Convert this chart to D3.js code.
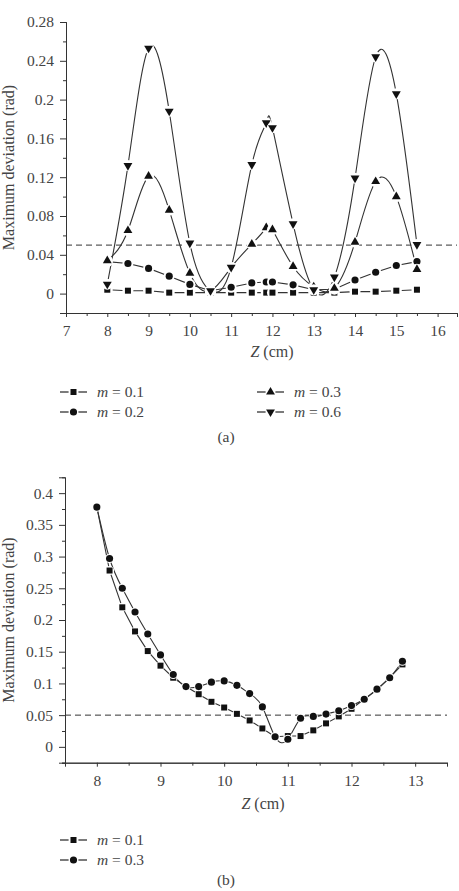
<!DOCTYPE html>
<html>
<head>
<meta charset="utf-8">
<script src="https://cdn.jsdelivr.net/npm/d3@7"></script>
<style>
  body { margin: 0; background: #fff; }
  svg { display: block; font-family: "Liberation Serif", "DejaVu Serif", serif; }
</style>
</head>
<body>
<svg id="svg" width="459" height="891"></svg>
<script>
// panel (a)
const zA = [8, 8.5, 9, 9.5, 10, 10.5, 11, 11.5, 11.85, 12, 12.5, 13, 13.5, 14, 14.5, 15, 15.5]
const a01 = [0.004, 0.003, 0.003, 0.001, 0.001, 0.001, 0.001, 0.001, 0.001, 0.001, 0.001, 0.001, 0.001, 0.002, 0.002, 0.003, 0.004]
const a02 = [0.033, 0.031, 0.026, 0.018, 0.0095, 0.003, 0.0065, 0.011, 0.012, 0.012, 0.009, 0.004, 0.0045, 0.014, 0.022, 0.029, 0.033]
const a03 = [0.034, 0.065, 0.121, 0.086, 0.021, 0.003, 0.027, 0.051, 0.068, 0.066, 0.028, 0.007, 0.0055, 0.053, 0.1155, 0.1, 0.025]
const a06 = [0.0097, 0.132, 0.253, 0.188, 0.052, 0.003, 0.027, 0.133, 0.176, 0.171, 0.072, 0.004, 0.017, 0.119, 0.244, 0.206, 0.0505]
const ticksA = [0, 0.04, 0.08, 0.12, 0.16, 0.2, 0.24, 0.28]
const tickLabelsA = ['0', '0.04', '0.08', '0.12', '0.16', '0.2', '0.24', '0.28']
const xTicksA = [7, 8, 9, 10, 11, 12, 13, 14, 15, 16]

// panel (b)
const zB = [8, 8.2, 8.4, 8.6, 8.8, 9, 9.2, 9.4, 9.6, 9.8, 10, 10.2, 10.4, 10.6, 10.8, 11, 11.2, 11.4, 11.6, 11.8, 12, 12.2, 12.4, 12.6, 12.8]
const b01 = [0.378, 0.278, 0.22, 0.182, 0.151, 0.128, 0.109, 0.095, 0.083, 0.071, 0.062, 0.052, 0.0416, 0.029, 0.016, 0.017, 0.017, 0.026, 0.037, 0.048, 0.06, 0.075, 0.09, 0.109, 0.13]
const b03 = [0.378, 0.297, 0.25, 0.2126, 0.178, 0.145, 0.114, 0.095, 0.095, 0.102, 0.104, 0.097, 0.084, 0.063, 0.016, 0.012, 0.045, 0.048, 0.0516, 0.057, 0.065, 0.075, 0.091, 0.109, 0.135]
const ticksB = [0, 0.05, 0.1, 0.15, 0.2, 0.25, 0.3, 0.35, 0.4]
const tickLabelsB = ['0', '0.05', '0.1', '0.15', '0.2', '0.25', '0.3', '0.35', '0.4']
const xTicksB = [8, 9, 10, 11, 12, 13]

const threshold = 0.05
const ink = '#333'
const serif = '"Liberation Serif", "Times New Roman", serif'
const svg = d3.select('#svg')

const sym = {
    square: d3.symbol().type(d3.symbolSquare).size(36)(),
    circle: d3.symbol().type(d3.symbolCircle).size(40)(),
    up: d3.symbol().type(d3.symbolTriangle).size(34)(),
    down: d3.symbol().type(d3.symbolTriangle).size(34)()
}

function marker(g, kind, x, y, halo) {
    if (halo) {
        g.append('circle').attr('cx', x).attr('cy', y).attr('r', halo).attr('fill', '#fff')
    }
    g.append('path')
        .attr('d', sym[kind])
        .attr('transform', `translate(${x},${y})` + (kind === 'down' ? ' rotate(180)' : ''))
        .attr('fill', '#111')
}

function drawPanel(p) {
    const x = d3.scaleLinear().domain(p.xDomain).range(p.xRange)
    const y = d3.scaleLinear().domain(p.yDomain).range(p.yRange)
    const g = svg.append('g')

    // axes
    const yAxis = d3.axisLeft(y).tickValues(p.yTicks).tickSize(6).tickPadding(6)
        .tickFormat((d, i) => p.yLabels[i])
    const yMinor = d3.axisLeft(y).tickValues(p.yMinor).tickSize(3).tickFormat('')
    const xAxis = d3.axisBottom(x).tickValues(p.xTicks).tickSize(4).tickPadding(8).tickFormat(d3.format('d'))
    const xMinor = d3.axisBottom(x).tickValues(p.xMinor).tickSize(3).tickFormat('')

    g.append('g').attr('transform', `translate(${p.xRange[0]},0)`).call(yAxis)
    g.append('g').attr('transform', `translate(${p.xRange[0]},0)`).call(yMinor)
    g.append('g').attr('transform', `translate(0,${p.yRange[0]})`).call(xAxis)
    g.append('g').attr('transform', `translate(0,${p.yRange[0]})`).call(xMinor)

    g.selectAll('.domain').attr('stroke', ink)
    g.selectAll('.tick line').attr('stroke', ink)
    g.selectAll('.tick text').attr('fill', '#444')
        .attr('font-family', serif).attr('font-size', '15.5px')

    // threshold
    g.append('line')
        .attr('x1', p.xRange[0]).attr('x2', p.xRange[1])
        .attr('y1', y(threshold)).attr('y2', y(threshold))
        .attr('stroke', ink).attr('stroke-dasharray', '6,4').attr('stroke-width', 1)

    // series
    p.series.forEach(s => {
        const pts = p.z.map((z, i) => [x(z), y(s.values[i])])
        g.append('path')
            .attr('fill', 'none')
            .attr('stroke', ink)
            .attr('stroke-width', 1.1)
            .attr('d', d3.line().curve(s.curve)(pts))
    })
    p.series.forEach(s => {
        p.z.forEach((z, i) => marker(g, s.kind, x(z), y(s.values[i]), p.halo))
    })

    // labels
    g.append('text')
        .attr('transform', `translate(${p.yLabelX},${(p.yRange[0] + p.yRange[1]) / 2}) rotate(-90)`)
        .attr('text-anchor', 'middle').attr('fill', '#444')
        .attr('font-family', serif).attr('font-size', '16px')
        .text('Maximum deviation (rad)')
    const xl = g.append('text')
        .attr('x', p.xLabelX).attr('y', p.xLabelY)
        .attr('text-anchor', 'middle').attr('fill', '#444')
        .attr('font-family', serif).attr('font-size', '16px')
    xl.append('tspan').attr('font-style', 'italic').text('Z')
    xl.append('tspan').text(' (cm)')

    // legend
    p.legend.forEach(l => {
        const lg = g.append('g')
        lg.append('line').attr('x1', l.x).attr('x2', l.x + 27).attr('y1', l.y).attr('y2', l.y)
            .attr('stroke', ink).attr('stroke-width', 1.3)
        marker(lg, l.kind, l.x + 13.5, l.y, 5)
        const t = lg.append('text').attr('x', l.x + 37).attr('y', l.y + 5)
            .attr('fill', '#444').attr('font-family', serif).attr('font-size', '15.5px')
        t.append('tspan').attr('font-style', 'italic').text('m')
        t.append('tspan').text(' = ' + l.label)
    })

    g.append('text')
        .attr('x', 226).attr('y', p.tagY)
        .attr('text-anchor', 'middle').attr('fill', '#444')
        .attr('font-family', serif).attr('font-size', '15.5px')
        .text(p.tag)
}

drawPanel({
    xDomain: [7, 16.47], xRange: [66, 457],
    yDomain: [-0.02, 0.28], yRange: [313, 22],
    yTicks: ticksA, yLabels: tickLabelsA,
    yMinor: [-0.02, 0.02, 0.06, 0.1, 0.14, 0.18, 0.22, 0.26],
    xTicks: xTicksA, xMinor: [7.5, 8.5, 9.5, 10.5, 11.5, 12.5, 13.5, 14.5, 15.5],
    z: zA, halo: 5.5,
    series: [
        { values: a01, kind: 'square', curve: d3.curveLinear },
        { values: a02, kind: 'circle', curve: d3.curveLinear },
        { values: a03, kind: 'up', curve: d3.curveNatural },
        { values: a06, kind: 'down', curve: d3.curveNatural }
    ],
    yLabelX: 14, xLabelX: 272, xLabelY: 357,
    legend: [
        { x: 60, y: 392, kind: 'square', label: '0.1' },
        { x: 60, y: 412, kind: 'circle', label: '0.2' },
        { x: 257, y: 392, kind: 'up', label: '0.3' },
        { x: 257, y: 412, kind: 'down', label: '0.6' }
    ],
    tag: '(a)', tagY: 442
})

drawPanel({
    xDomain: [7.5, 13.5], xRange: [65, 447],
    yDomain: [-0.025, 0.425], yRange: [762.7, 477.3],
    yTicks: ticksB, yLabels: tickLabelsB,
    yMinor: [-0.025, 0.025, 0.075, 0.125, 0.175, 0.225, 0.275, 0.325, 0.375],
    xTicks: xTicksB, xMinor: [8.5, 9.5, 10.5, 11.5, 12.5, 13.5],
    z: zB, halo: 4.5,
    series: [
        { values: b01, kind: 'square', curve: d3.curveLinear },
        { values: b03, kind: 'circle', curve: d3.curveNatural }
    ],
    yLabelX: 14, xLabelX: 263, xLabelY: 809,
    legend: [
        { x: 60, y: 840, kind: 'square', label: '0.1' },
        { x: 60, y: 860, kind: 'circle', label: '0.3' }
    ],
    tag: '(b)', tagY: 885
})
</script>
</body>
</html>
